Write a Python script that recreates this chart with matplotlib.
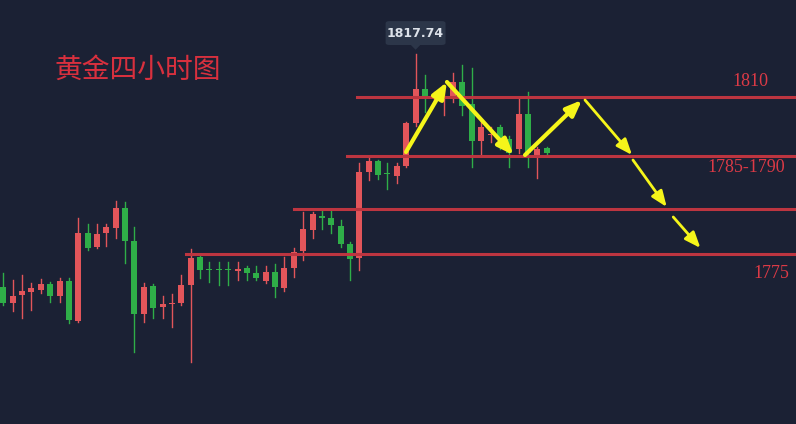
import matplotlib
matplotlib.use("Agg")
import matplotlib.pyplot as plt
from matplotlib.patches import Rectangle, FancyBboxPatch, Polygon

# 4H gold candles (open, high, low, close)
opens = [1775.80, 1772.92, 1774.36, 1774.90, 1775.26, 1776.34, 1774.18, 1776.88, 1769.68, 1785.52,
         1783.00, 1785.52, 1786.42, 1790.02, 1784.08, 1770.94, 1775.98, 1772.20, 1772.74, 1772.92,
         1776.16, 1781.20, 1779.04, 1779.04, 1779.04, 1778.68, 1779.22, 1778.32, 1776.88, 1778.50,
         1775.62, 1779.22, 1782.28, 1786.06, 1788.58, 1788.22, 1786.78, 1783.54, 1781.02, 1796.50,
         1798.48, 1796.32, 1795.78, 1797.58, 1805.32, 1811.44, 1809.82, 1809.64, 1809.64, 1812.70,
         1808.74, 1802.08, 1803.16, 1804.60, 1802.44, 1800.64, 1806.94, 1799.20, 1800.82]
highs = [1778.32, 1777.06, 1777.96, 1776.52, 1777.24, 1776.70, 1777.42, 1777.42, 1788.22, 1787.14,
         1787.14, 1787.14, 1791.28, 1791.10, 1786.60, 1776.52, 1776.34, 1774.18, 1774.54, 1777.96,
         1782.64, 1781.38, 1780.30, 1780.30, 1780.30, 1780.30, 1779.58, 1779.58, 1779.58, 1779.94,
         1781.20, 1782.82, 1789.30, 1789.30, 1789.48, 1789.48, 1787.86, 1783.90, 1798.12, 1799.20,
         1798.66, 1798.12, 1798.12, 1805.50, 1817.74, 1813.96, 1810.90, 1812.16, 1814.32, 1815.76,
         1815.22, 1805.86, 1804.60, 1804.96, 1802.98, 1809.82, 1810.90, 1801.00, 1801.00]
lows = [1772.56, 1771.48, 1770.22, 1771.66, 1774.72, 1773.10, 1773.10, 1769.32, 1769.50, 1782.46,
        1782.82, 1783.18, 1784.62, 1780.12, 1764.10, 1769.50, 1770.22, 1770.22, 1768.60, 1772.56,
        1762.30, 1777.42, 1776.70, 1776.16, 1776.16, 1777.06, 1777.06, 1777.06, 1776.52, 1774.00,
        1775.08, 1777.60, 1780.66, 1784.62, 1786.24, 1785.52, 1783.00, 1777.06, 1778.86, 1795.06,
        1795.24, 1793.44, 1794.52, 1797.40, 1804.78, 1807.30, 1808.92, 1806.76, 1809.10, 1806.76,
        1797.40, 1799.56, 1801.90, 1800.64, 1797.40, 1799.92, 1797.40, 1795.42, 1799.74]
closes = [1772.92, 1774.18, 1775.08, 1775.62, 1776.34, 1774.18, 1776.88, 1769.86, 1785.52, 1782.82,
          1785.34, 1786.60, 1790.02, 1784.08, 1770.94, 1775.80, 1772.02, 1772.74, 1772.92, 1776.16,
          1781.02, 1778.86, 1778.86, 1778.86, 1778.86, 1779.04, 1778.32, 1777.42, 1778.50, 1775.80,
          1779.22, 1782.10, 1786.24, 1788.94, 1788.22, 1786.96, 1783.54, 1780.84, 1796.50, 1798.48,
          1795.96, 1796.14, 1797.58, 1805.32, 1811.44, 1809.64, 1810.00, 1810.00, 1812.70, 1808.38,
          1802.08, 1804.60, 1803.34, 1802.26, 1799.92, 1806.94, 1799.92, 1800.64, 1799.92]

peak_price = 1817.74

# support / resistance lines: (price, start index)
levels = [1810.00, 1799.38, 1789.84, 1781.74]
level_starts = [37.8, 36.7, 31.0, 19.5]
level_labels = ["1810", "1785-1790", "1775"]
label_pos = [(79.7, 1812.70), (79.3, 1797.22), (82.0, 1778.14)]

# forecast arrows: (x0, y0, x1, y1, width)
arrows = [(42.98, 1800.10, 47.35, 1812.70, 3.0),
          (47.35, 1812.70, 54.45, 1799.56, 3.0),
          (55.68, 1799.56, 61.76, 1809.46, 3.0),
          (62.08, 1809.46, 67.10, 1799.56, 2.0),
          (67.20, 1798.66, 70.80, 1790.20, 2.0),
          (71.50, 1788.40, 74.40, 1782.82, 2.0)]

bg = "#1b2134"
up_col = "#e2555a"
down_col = "#2fae48"
line_col = "#bd3540"
txt_col = "#dc3a46"

fig = plt.figure(figsize=(7.96, 4.24), dpi=100)
fig.patch.set_facecolor(bg)
ax = fig.add_axes([0, 0, 1, 1])
ax.set_facecolor(bg)
ax.set_xlim(-0.352, 84.6)
ax.set_ylim(1827.46 - 0.18 * 424, 1827.46)
ax.axis("off")

for i in range(len(opens)):
    o, h, l, c = opens[i], highs[i], lows[i], closes[i]
    col = up_col if c >= o else down_col
    ax.plot([i, i], [l, h], color=col, lw=1.0, zorder=3)
    bottom = min(o, c)
    height = max(abs(c - o), 0.25)
    ax.add_patch(Rectangle((i - 0.32, bottom), 0.64, height, facecolor=col,
                           edgecolor="none", zorder=4))

for lvl, x0 in zip(levels, level_starts):
    ax.plot([x0, 90], [lvl, lvl], color=line_col, lw=2.2, zorder=5)

for lab, (x, y) in zip(level_labels, label_pos):
    ax.text(x, y, lab, color=txt_col, fontsize=13, family="Liberation Serif",
            ha="center", va="center", zorder=6)

for x0, y0, x1, y1, w in arrows:
    ax.annotate("", xy=(x1, y1), xytext=(x0, y0),
                arrowprops=dict(arrowstyle="-|>,head_length=0.95,head_width=0.38",
                                color="#f5f51a", lw=w, shrinkA=0, shrinkB=0),
                zorder=7)

# price tooltip above the peak
px = 44
ax.add_patch(FancyBboxPatch((px - 3.2, 1819.36), 6.4, 4.3,
                            boxstyle="round,pad=0,rounding_size=0.4",
                            facecolor="#2c3649", edgecolor="none", zorder=8))
ax.add_patch(Polygon([[px - 0.5, 1819.36], [px + 0.5, 1819.36], [px, 1818.5]],
                     closed=True, facecolor="#2c3649", edgecolor="none", zorder=8))
ax.text(px, 1821.5, f"{peak_price:.2f}", color="#dde2ea", fontsize=9,
        fontweight="bold", ha="center", va="center", zorder=9)

ax.text(55 / 796, 1 - 70 / 424, "黄金四小时图", transform=ax.transAxes,
        color="#d8303e", fontsize=20, family=["Noto Sans CJK SC", "DejaVu Sans"],
        fontweight="light", ha="left", va="center")

fig.savefig("out.png", dpi=100, facecolor=bg)
